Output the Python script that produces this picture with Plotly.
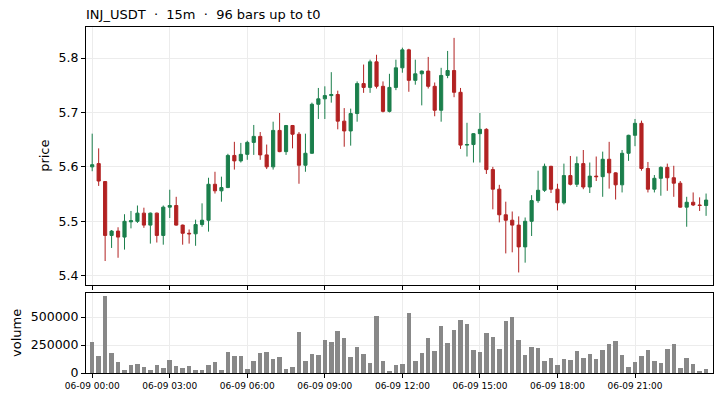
import plotly.graph_objects as go

# ---- data ----
opens = [5.600, 5.606, 5.573, 5.474, 5.482, 5.471, 5.499, 5.500, 5.515, 5.493,
         5.515, 5.474, 5.526, 5.529, 5.493, 5.478, 5.477, 5.494, 5.502, 5.568,
         5.556, 5.562, 5.621, 5.611, 5.623, 5.645, 5.656, 5.622, 5.600, 5.667,
         5.628, 5.676, 5.660, 5.603, 5.625, 5.715, 5.725, 5.731, 5.733, 5.684,
         5.666, 5.698, 5.753, 5.746, 5.793, 5.748, 5.702, 5.746, 5.782, 5.815,
         5.759, 5.771, 5.776, 5.748, 5.704, 5.768, 5.777, 5.737, 5.640, 5.641,
         5.661, 5.669, 5.595, 5.559, 5.512, 5.502, 5.493, 5.453, 5.500, 5.538,
         5.557, 5.601, 5.559, 5.534, 5.584, 5.568, 5.606, 5.563, 5.583, 5.582,
         5.614, 5.589, 5.567, 5.625, 5.658, 5.680, 5.597, 5.559, 5.579, 5.599,
         5.580, 5.570, 5.526, 5.535, 5.530, 5.529]
highs = [5.661, 5.634, 5.574, 5.484, 5.489, 5.513, 5.519, 5.529, 5.525, 5.516,
         5.516, 5.529, 5.558, 5.545, 5.494, 5.485, 5.503, 5.533, 5.580, 5.591,
         5.582, 5.624, 5.646, 5.644, 5.648, 5.677, 5.664, 5.641, 5.683, 5.699,
         5.677, 5.677, 5.664, 5.661, 5.718, 5.745, 5.748, 5.774, 5.740, 5.708,
         5.707, 5.757, 5.788, 5.797, 5.806, 5.757, 5.771, 5.797, 5.819, 5.817,
         5.797, 5.777, 5.802, 5.755, 5.782, 5.813, 5.837, 5.745, 5.681, 5.662,
         5.699, 5.671, 5.600, 5.567, 5.536, 5.518, 5.509, 5.507, 5.548, 5.593,
         5.606, 5.602, 5.569, 5.606, 5.620, 5.619, 5.631, 5.608, 5.619, 5.628,
         5.646, 5.590, 5.631, 5.659, 5.688, 5.685, 5.609, 5.585, 5.601, 5.606,
         5.602, 5.574, 5.545, 5.553, 5.544, 5.551]
lows = [5.592, 5.565, 5.427, 5.451, 5.433, 5.448, 5.487, 5.497, 5.488, 5.459,
        5.461, 5.457, 5.506, 5.492, 5.457, 5.459, 5.455, 5.490, 5.481, 5.551,
        5.536, 5.561, 5.595, 5.608, 5.613, 5.622, 5.613, 5.596, 5.595, 5.627,
        5.622, 5.634, 5.569, 5.591, 5.624, 5.688, 5.688, 5.718, 5.669, 5.637,
        5.639, 5.683, 5.736, 5.736, 5.744, 5.700, 5.700, 5.741, 5.773, 5.738,
        5.751, 5.713, 5.744, 5.693, 5.683, 5.763, 5.728, 5.633, 5.619, 5.608,
        5.608, 5.587, 5.522, 5.498, 5.441, 5.443, 5.406, 5.424, 5.473, 5.534,
        5.554, 5.552, 5.520, 5.531, 5.566, 5.563, 5.559, 5.552, 5.574, 5.545,
        5.560, 5.540, 5.553, 5.611, 5.638, 5.593, 5.553, 5.553, 5.547, 5.556,
        5.545, 5.525, 5.490, 5.528, 5.519, 5.510]
closes = [5.604, 5.574, 5.474, 5.482, 5.471, 5.500, 5.501, 5.515, 5.493, 5.515,
          5.474, 5.526, 5.529, 5.493, 5.478, 5.477, 5.494, 5.502, 5.568, 5.556,
          5.562, 5.621, 5.611, 5.623, 5.645, 5.656, 5.622, 5.600, 5.667, 5.628,
          5.676, 5.660, 5.603, 5.625, 5.715, 5.725, 5.731, 5.733, 5.684, 5.666,
          5.698, 5.753, 5.746, 5.793, 5.748, 5.702, 5.746, 5.782, 5.815, 5.759,
          5.771, 5.776, 5.748, 5.704, 5.768, 5.777, 5.737, 5.640, 5.641, 5.661,
          5.669, 5.595, 5.559, 5.512, 5.502, 5.493, 5.453, 5.500, 5.538, 5.557,
          5.601, 5.559, 5.534, 5.584, 5.568, 5.606, 5.563, 5.583, 5.582, 5.614,
          5.589, 5.567, 5.625, 5.658, 5.680, 5.597, 5.559, 5.579, 5.599, 5.580,
          5.570, 5.526, 5.535, 5.530, 5.529, 5.539]
volumes = [279700, 148800, 690400, 181500, 101200, 23800, 74400, 83300, 56500, 29800,
           74400, 47600, 119000, 65500, 47600, 65500, 29800, 29800, 74400, 101200,
           29800, 190500, 154800, 154800, 38700, 110100, 181500, 190500, 128000, 145800,
           38700, 56500, 369000, 110100, 172600, 163700, 297600, 279700, 378000, 315500,
           145800, 235100, 172600, 92300, 511900, 110100, 20800, 74400, 83300, 538700,
           110100, 181500, 315500, 199400, 422600, 270800, 386900, 476200, 440400, 208300,
           190500, 360100, 324400, 217200, 467200, 502900, 297600, 163700, 235100, 226200,
           110100, 136900, 74400, 128000, 119000, 199400, 136900, 172600, 128000, 208300,
           261900, 288700, 163700, 56500, 101200, 154800, 208300, 110100, 92300, 217200,
           261900, 47600, 136900, 83300, 20800, 38700]
bar_index = list(range(len(opens)))
tick_positions = [0, 12, 24, 36, 48, 60, 72, 84]
tick_labels = ["06-09 00:00", "06-09 03:00", "06-09 06:00", "06-09 09:00",
               "06-09 12:00", "06-09 15:00", "06-09 18:00", "06-09 21:00"]
price_ticks = [5.4, 5.5, 5.6, 5.7, 5.8]
volume_ticks = [0, 250000, 500000]
title_text = "INJ_USDT  \u00b7  15m  \u00b7  96 bars up to t0"

GREEN = "#1b7f4c"
RED = "#b22222"
GRID = "#ececec"
FONT = "DejaVu Sans"

fig = go.Figure()
fig.add_trace(go.Candlestick(
    x=bar_index, open=opens, high=highs, low=lows, close=closes,
    increasing=dict(line=dict(color=GREEN, width=1), fillcolor=GREEN),
    decreasing=dict(line=dict(color=RED, width=1), fillcolor=RED),
    whiskerwidth=0, xaxis="x", yaxis="y", showlegend=False,
))
fig.add_trace(go.Bar(
    x=bar_index, y=volumes, width=0.7, marker=dict(color="#888888", line=dict(width=0)),
    xaxis="x2", yaxis="y2", showlegend=False,
))

axis_common = dict(showline=True, linecolor="black", linewidth=1, mirror=True,
                   ticks="outside", ticklen=4, tickcolor="black", tickwidth=1,
                   showgrid=True, gridcolor=GRID, gridwidth=1, zeroline=False,
                   automargin=False)

fig.update_layout(
    width=721, height=400,
    margin=dict(l=86, r=8, t=27, b=27, autoexpand=False),
    paper_bgcolor="white", plot_bgcolor="white",
    font=dict(family=FONT, color="black"),
    title=dict(text=title_text, x=0, xref="paper", xanchor="left",
               y=1 - 14 / 400, yref="container", yanchor="middle",
               automargin=False,
               font=dict(family=FONT, size=13, color="black")),
    xaxis=dict(domain=[0, 1], range=[-0.96, 96.07], tickvals=tick_positions,
               showticklabels=False, rangeslider=dict(visible=False),
               anchor="y", **axis_common),
    yaxis=dict(domain=[0.2552, 1], range=[5.3835, 5.857], tickvals=price_ticks,
               ticktext=[f"{v:.1f}" for v in price_ticks],
               tickfont=dict(size=12.5), anchor="x", **axis_common),
    xaxis2=dict(domain=[0, 1], range=[-0.96, 96.07], tickvals=tick_positions,
                ticktext=tick_labels, tickfont=dict(size=9), matches="x",
                anchor="y2", **axis_common),
    yaxis2=dict(domain=[0, 0.2312], range=[0, 714286], tickvals=volume_ticks,
                ticktext=[str(v) for v in volume_ticks],
                tickfont=dict(size=12.5), anchor="x2", **axis_common),
    bargap=0,
    annotations=[
        dict(text="price", xref="paper", yref="paper", x=(45 - 86) / 627,
             y=(0.2552 + 1) / 2, textangle=-90, showarrow=False,
             xanchor="center", yanchor="middle", font=dict(size=13)),
        dict(text="volume", xref="paper", yref="paper", x=(16 - 86) / 627,
             y=0.2312 / 2, textangle=-90, showarrow=False,
             xanchor="center", yanchor="middle", font=dict(size=13)),
    ],
)

fig.write_html("out.html", config={"displayModeBar": False},
               post_script="document.body.style.margin='0';document.body.style.overflow='hidden';")
